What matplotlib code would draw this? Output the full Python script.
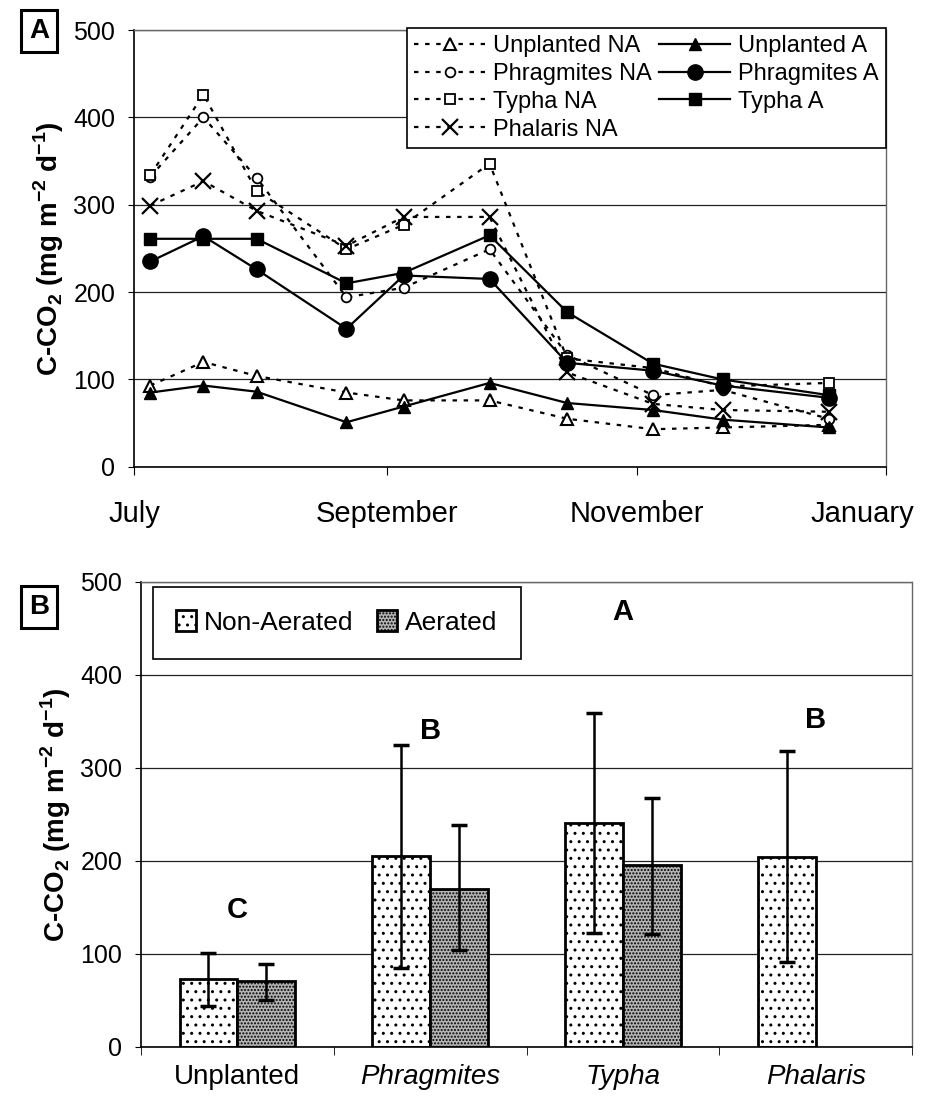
import matplotlib
matplotlib.use('Agg')
import matplotlib.pyplot as plt
import matplotlib.transforms as mtransforms
import numpy as np

plt.rcParams['font.family'] = ['Liberation Sans', 'DejaVu Sans']
plt.rcParams['mathtext.fontset'] = 'custom'
plt.rcParams['mathtext.rm'] = 'Liberation Sans'
plt.rcParams['mathtext.bf'] = 'Liberation Sans:bold'
plt.rcParams['hatch.linewidth'] = 1.0

# ---- Panel A data (x = days since 1 July) ----
days = [4, 17, 30, 52, 66, 87, 106, 127, 144, 170]
unplanted_na = [93, 120, 104, 85, 76, 76, 55, 43, 45, 48]
unplanted_a = [85, 93, 86, 51, 69, 96, 73, 65, 54, 45]
phrag_na = [332, 400, 331, 194, 205, 249, 128, 82, 88, 55]
phrag_a = [235, 264, 226, 158, 219, 215, 119, 110, 93, 79]
typha_na = [334, 426, 316, 249, 277, 347, 124, 113, 92, 96]
typha_a = [261, 261, 261, 210, 222, 265, 177, 118, 100, 82]
phalaris_na = [299, 327, 293, 253, 286, 286, 108, 72, 65, 63]
month_ticks = [0, 62, 123, 184]
month_labels = ['July', 'September', 'November', 'January']

# ---- Panel B data ----
species = ['Unplanted', 'Phragmites', 'Typha', 'Phalaris']
non_aerated = [73, 205, 241, 204]
non_aerated_lo = [44, 85, 123, 91]
non_aerated_hi = [101, 325, 359, 318]
aerated = [71, 170, 196, np.nan]
aerated_lo = [51, 104, 122, np.nan]
aerated_hi = [89, 239, 268, np.nan]
letters = ['C', 'B', 'A', 'B']
letter_y = [147, 340, 468, 352]

ylab = r'C-CO$_\mathbf{2}$ (mg m$^\mathbf{-2}$ d$^\mathbf{-1}$)'
dot = (0, (2, 3))

fig = plt.figure(figsize=(9.29, 11.03), dpi=100)
axA = fig.add_axes([0.1442, 0.5768, 0.8095, 0.3960])
axB = fig.add_axes([0.1518, 0.0508, 0.830, 0.4216])

for ax in (axA, axB):
    ax.set_ylim(0, 500)
    ax.set_yticks(range(0, 501, 100))
    ax.yaxis.grid(True, color='#222222', lw=0.9)
    ax.set_axisbelow(True)
    for s in ('top', 'right'):
        ax.spines[s].set_color('#666666')
        ax.spines[s].set_linestyle((0, (1, 1)))
        ax.spines[s].set_linewidth(1)
    for s in ('left', 'bottom'):
        ax.spines[s].set_linewidth(1.2)
    ax.tick_params(axis='y', labelsize=18, length=4.5, pad=9, direction='out')
    ax.set_ylabel(ylab, fontsize=20, fontweight='bold', labelpad=5)

# ---- Panel A ----
axA.plot(days, unplanted_na, ls=dot, lw=1.6, color='k', marker='^', ms=8,
         mfc='white', mec='k', mew=1.5, label='Unplanted NA')
axA.plot(days, phrag_na, ls=dot, lw=1.6, color='k', marker='o', ms=7,
         mfc='white', mec='k', mew=1.3, label='Phragmites NA')
axA.plot(days, typha_na, ls=dot, lw=1.6, color='k', marker='s', ms=7.5,
         mfc='white', mec='k', mew=1.3, label='Typha NA')
axA.plot(days, phalaris_na, ls=dot, lw=1.6, color='k', marker='x', ms=12,
         mew=1.6, label='Phalaris NA')
axA.plot(days, unplanted_a, ls='-', lw=1.6, color='k', marker='^', ms=9,
         label='Unplanted A')
axA.plot(days, phrag_a, ls='-', lw=1.6, color='k', marker='o', ms=11,
         label='Phragmites A')
axA.plot(days, typha_a, ls='-', lw=1.6, color='k', marker='s', ms=9,
         label='Typha A')

axA.set_xlim(month_ticks[0], month_ticks[-1])
axA.set_xticks(month_ticks)
axA.set_xticklabels(month_labels, fontsize=21)
axA.tick_params(axis='x', length=6, direction='out', pad=18)
last = axA.get_xticklabels()[-1]
last.set_ha('right')
last.set_transform(last.get_transform() +
                   mtransforms.ScaledTranslation(0.28, 0, fig.dpi_scale_trans))

legA = axA.legend(ncol=2, loc='upper right', bbox_to_anchor=(1.0, 1.005),
                  borderaxespad=0, fancybox=False, framealpha=1,
                  edgecolor='k', fontsize=17, handlelength=3.0,
                  columnspacing=0.3, labelspacing=0.25, handletextpad=0.35,
                  borderpad=0.3)
legA.get_frame().set_linewidth(1.2)

# ---- Panel B ----
x = np.arange(len(species))
w = 0.3
axB.bar(x - w / 2, non_aerated, w, color='white', edgecolor='k',
        lw=2, hatch='..', label='Non-Aerated', zorder=2)
axB.bar(x + w / 2, aerated, w, color='#b5b5b5', edgecolor='k',
        lw=2, hatch='.....', label='Aerated', zorder=2)

na = np.array(non_aerated, float)
err_na = [na - np.array(non_aerated_lo), np.array(non_aerated_hi) - na]
axB.errorbar(x - w / 2, na, yerr=err_na, fmt='none', ecolor='k', elinewidth=1.8,
             capsize=6, capthick=2.5, zorder=3)
ae = np.array(aerated, float)
ok = ~np.isnan(ae)
err_a = [(ae - np.array(aerated_lo))[ok], (np.array(aerated_hi) - ae)[ok]]
axB.errorbar((x + w / 2)[ok], ae[ok], yerr=err_a, fmt='none', ecolor='k',
             elinewidth=1.8, capsize=6, capthick=2.5, zorder=3)

for xi, lt, ly in zip(x, letters, letter_y):
    axB.text(xi, ly, lt, ha='center', va='center', fontsize=21,
             fontweight='bold')

axB.set_xlim(-0.5, len(species) - 0.5)
axB.set_xticks(x)
axB.set_xticklabels(species, fontsize=20)
for i, t in enumerate(axB.get_xticklabels()):
    if i > 0:
        t.set_style('italic')
axB.set_xticks(np.arange(-0.5, len(species)), minor=True)
axB.tick_params(axis='x', which='major', length=0, pad=12)
axB.tick_params(axis='x', which='minor', length=6, direction='out')

legB = axB.legend(loc='upper left', bbox_to_anchor=(0.015, 0.99), ncol=2,
                  fancybox=False, framealpha=1, edgecolor='k', fontsize=19,
                  handlelength=0.75, handleheight=0.85, handletextpad=0.3,
                  columnspacing=0.9, borderpad=0.9, borderaxespad=0)
legB.get_frame().set_linewidth(1.2)

# panel letters
for lab, yy in (('A', 0.972), ('B', 0.4497)):
    fig.text(0.042, yy, lab, fontsize=20, fontweight='bold', ha='center',
             va='center',
             bbox=dict(boxstyle='square,pad=0.3', fc='white', ec='k', lw=2.2))

fig.savefig('out.png', dpi=100, facecolor='white')
